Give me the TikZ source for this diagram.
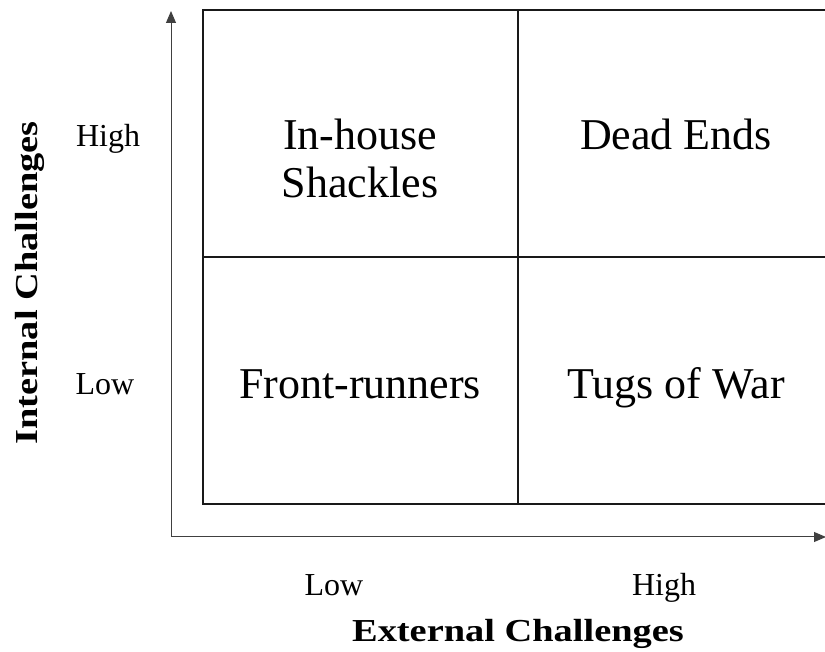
\documentclass[tikz,border=0pt]{standalone}
\usepackage{fontspec}
\setmainfont{Liberation Serif}
\newfontfamily\axisfont[FakeStretch=1.2]{Liberation Serif}
\usetikzlibrary{arrows.meta}

\begin{document}
\begin{tikzpicture}[
  x=1pt, y=1pt,
  quadrant/.style={align=center, inner sep=0pt, font=\fontsize{44}{48}\selectfont},
  level/.style={inner sep=0pt, anchor=base, font=\fontsize{32}{36}\selectfont},
  axistitle/.style={inner sep=0pt, anchor=base, font=\axisfont\bfseries\fontsize{32}{36}\selectfont},
  gridline/.style={line width=1.6pt, black!90},
  axisline/.style={line width=1pt, black!75, -{Triangle[length=12pt,width=10pt]}}
]
\useasboundingbox (0,0) rectangle (825,651);
% matrix
\draw[gridline] (832,641) -- (203,641) -- (203,147) -- (832,147);
\draw[gridline] (518,641) -- (518,147);
\draw[gridline] (203,394) -- (832,394);
% axes
\coordinate (origin) at (171,114);
\coordinate (ytip) at (171,640);
\coordinate (xtip) at (826,114);
\draw[axisline] (origin) -- (ytip);
\draw[axisline] (origin) -- (xtip);
% quadrant names
\node[quadrant] (shackles) at (360,493) {In-house\\Shackles};
\node[quadrant, anchor=base] (deadends) at (676,501) {Dead Ends};
\node[quadrant, anchor=base] (frontrunners) at (360,252) {Front-runners};
\node[quadrant, anchor=base] (tugs) at (676,252) {Tugs of War};
% levels
\node[level] (inthigh) at (108,504) {High};
\node[level] (intlow) at (105,256) {Low};
\node[level] (extlow) at (334,56) {Low};
\node[level] (exthigh) at (664,56) {High};
% axis titles
\node[axistitle] (external) at (518,10) {External Challenges};
\node[axistitle, rotate=90] (internal) at (37,368) {Internal Challenges};
\end{tikzpicture}
\end{document}
